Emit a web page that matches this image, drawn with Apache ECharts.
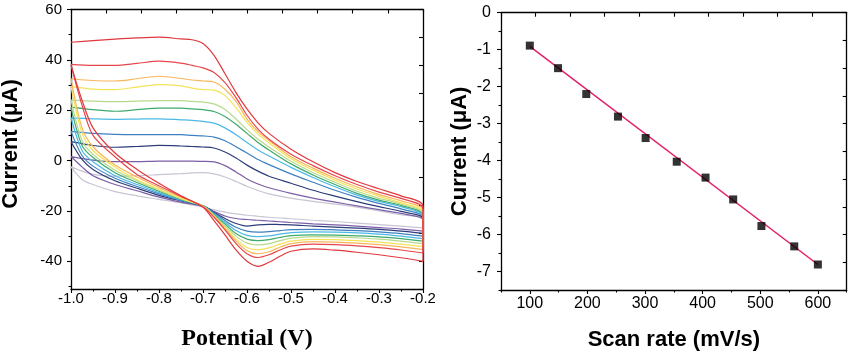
<!DOCTYPE html>
<html><head><meta charset="utf-8">
<script src="https://cdn.jsdelivr.net/npm/echarts@6/dist/echarts.min.js"></script>
<style>html,body{margin:0;padding:0;background:#fff}#c{width:850px;height:356px}</style>
</head><body><div id="c"></div>
<script>
// ---------- Left panel: cyclic voltammograms (potential in V, current in µA) ----------
const potentialFwd = [-1.0, -0.95, -0.9, -0.85, -0.8, -0.75, -0.725, -0.7, -0.675, -0.65, -0.625, -0.6, -0.575, -0.55, -0.5, -0.45, -0.4, -0.35, -0.3, -0.25, -0.2];
const potentialRev = [-0.2, -0.25, -0.3, -0.35, -0.4, -0.45, -0.5, -0.525, -0.55, -0.575, -0.6, -0.625, -0.65, -0.675, -0.7, -0.75, -0.8, -0.85, -0.9, -0.95, -0.975, -1.0];

const cvScanRates = [600, 550, 500, 450, 400, 350, 300, 250, 200, 150, 100];

const fwd600 = [47, 47.6, 48.2, 48.7, 49, 48.3, 48, 46.5, 41.8, 34.5, 27, 20.5, 15, 10.8, 4.5, -0.5, -4.8, -8.3, -11.2, -14, -18];
const fwd550 = [38.2, 37.8, 37.8, 38.6, 39.5, 38.7, 37.8, 36.8, 35, 31, 25, 18, 12.5, 8.5, 2.5, -2, -6, -9.5, -12.5, -15, -19];
const fwd500 = [32.5, 31.8, 31.6, 32.5, 33.5, 32.6, 32, 31.6, 31.2, 28.3, 23.5, 16.5, 11.5, 8, 1.5, -3, -7, -10.5, -13.5, -16, -19.8];
const fwd450 = [29.5, 28.4, 28.2, 29.2, 30.2, 29.7, 28.8, 28.2, 28, 25.8, 21, 15.2, 10.5, 7, 0.7, -3.8, -7.8, -11.3, -14.2, -16.8, -20.5];
const fwd400 = [24, 23.6, 23.4, 23.6, 23.8, 23.8, 23.5, 23.2, 22.5, 20.3, 16.5, 12.3, 8.5, 5.4, -0.3, -4.8, -8.6, -12.2, -15, -17.3, -21];
const fwd350 = [21.2, 20.2, 19.6, 20.2, 20.8, 20.8, 20.5, 20.2, 19.5, 17.5, 14.4, 10.8, 7.2, 4.2, -1.3, -5.7, -9.5, -13, -15.7, -17.8, -21.5];
const fwd300 = [16.9, 16.6, 16.4, 16.5, 16.6, 16.2, 16, 15.6, 14.9, 13, 10.3, 7.2, 4.2, 1.8, -2.7, -6.7, -10.4, -13.7, -16.2, -18.3, -22];
const fwd250 = [11.6, 10.8, 10.4, 10.3, 10.3, 10.3, 10, 9.8, 9.3, 7.9, 5.5, 3, 0.4, -1.6, -5.3, -8.6, -11.8, -14.6, -17, -19.2, -22.5];
const fwd200 = [7.5, 6, 5.3, 5.6, 6, 5.8, 5.6, 5.4, 5, 3.4, 1, -1.8, -4.2, -6.2, -9, -11.8, -14.1, -16.3, -18.3, -20.2, -23];
const fwd150 = [1.6, 0.2, -0.4, -0.4, -0.2, -0.2, -0.2, -0.3, -0.5, -2, -4.5, -7.3, -9.3, -10.8, -13, -14.9, -16.5, -18, -19.5, -21, -23.5];
const fwd100 = [-2.5, -5.5, -6.2, -6, -5.6, -5.2, -4.9, -4.8, -5.3, -6.5, -8.3, -10.2, -11.9, -13.2, -14.9, -16.2, -17.3, -18.5, -20, -21.5, -23];

const rev600 = [-40, -38.6, -37.4, -36.4, -35.6, -35.1, -36, -38, -40.4, -42, -40, -35.5, -29.5, -23.8, -18.5, -14, -9, -3.5, 3, 13, 24, 38];
const rev550 = [-36.7, -35.5, -34.6, -33.9, -33.4, -33.2, -34, -35.5, -37.4, -38.5, -37, -33, -27.5, -22.5, -18.3, -14.2, -10, -5.5, 1.5, 10, 22, 38];
const rev500 = [-35.4, -34.3, -33.4, -32.8, -32.4, -32.2, -33, -34.4, -36.2, -37, -35.8, -32, -27, -22.2, -18.2, -14.5, -10.7, -6.5, -1.8, 5.5, 13, 32.5];
const rev450 = [-34.2, -33.2, -32.4, -31.8, -31.4, -31.3, -32, -33.2, -34.7, -35.4, -34.5, -31.2, -26.5, -22, -18.1, -15, -11.3, -7.6, -2.6, 4, 11, 29.5];
const rev400 = [-33, -32, -31.2, -30.7, -30.3, -30.2, -30.8, -31.8, -33, -33.5, -32.8, -30, -26, -21.8, -18.1, -15.2, -11.8, -8, -3.8, 2.5, 8, 24];
const rev350 = [-32, -31, -30.3, -29.9, -29.6, -29.5, -29.8, -30.5, -31.4, -31.8, -31.2, -29, -25.2, -21.5, -18, -15.4, -12.2, -8.7, -4.8, 1.2, 6, 21];
const rev300 = [-31, -30, -29.2, -28.7, -28.4, -28.3, -28.6, -29.2, -29.9, -30.2, -29.7, -27.8, -24.5, -21.2, -18, -15.6, -12.7, -9.5, -6, -0.5, 4, 17];
const rev250 = [-30, -29, -28.3, -27.8, -27.5, -27.3, -27.4, -27.8, -28.2, -28.4, -28, -26.5, -23.8, -20.8, -18, -15.8, -13.2, -10.3, -7, -2.2, 2, 11.6];
const rev200 = [-28.9, -28, -27.3, -26.8, -26.4, -26, -25.5, -25.4, -25.3, -25.5, -26, -25, -23, -20.5, -18, -16, -13.8, -11, -8, -3.5, 0.5, 7.5];
const rev150 = [-28, -27.2, -26.6, -26, -25.5, -25.1, -24.6, -24.3, -24, -23.7, -23.4, -23, -22, -20.2, -18.2, -16.5, -14.5, -12, -9.5, -6, -2.5, 1.6];
const rev100 = [-26.7, -26, -25.4, -24.8, -24.2, -23.7, -23.1, -22.8, -22.5, -22.1, -21.7, -21.2, -20.5, -19.6, -18.4, -16.8, -15.4, -14, -12.3, -9.5, -7.5, -2.5];

const cvForward = [fwd600, fwd550, fwd500, fwd450, fwd400, fwd350, fwd300, fwd250, fwd200, fwd150, fwd100];
const cvReverse = [rev600, rev550, rev500, rev450, rev400, rev350, rev300, rev250, rev200, rev150, rev100];

const cvTicksMajor = [-40, -20, 0, 20, 40, 60];
const cvTicksMinor = [-50, -30, -10, 10, 30, 50];

// ---------- Right panel: peak current vs scan rate ----------
const scanRate = [100, 149, 198, 253, 301, 355, 405, 453, 502, 559, 600];
const peakCurrent = [-0.89, -1.5, -2.2, -2.81, -3.39, -4.03, -4.46, -5.05, -5.77, -6.32, -6.81];
const fitRate = [100, 600];
const fitCurrent = [-0.91, -6.81];
const rateTicksMajor = [100, 200, 300, 400, 500, 600];
const rateTicksMinor = [50, 150, 250, 350, 450, 550, 650];
const currentTicksMajor = [0, -1, -2, -3, -4, -5, -6, -7];
const currentTicksMinor = [-0.5, -1.5, -2.5, -3.5, -4.5, -5.5, -6.5, -7.5];

// ---------- styles ----------
const cvColors = ['#e0393d', '#e6474d', '#f7b65a', '#f4e25a', '#b8d98c', '#3eaa6c', '#4bb9e6', '#3f80c0', '#2d3d78', '#7b5ea8', '#c9c5d3'];
const BLACK = '#000';
const sans = '"Liberation Sans", Arial, sans-serif';
const serif = '"Liberation Serif", "Times New Roman", serif';
const axLine = {show: true, onZero: false, lineStyle: {color: BLACK, width: 1.3}};
const noLine = {show: false, onZero: false};
const tickStyle = {color: BLACK, width: 1.1};

const chart = echarts.init(document.getElementById('c'), null, {renderer: 'canvas'});

const cvSeries = cvForward.map((fwd, i) => ({
  type: 'line',
  name: cvScanRates[i] + ' mV/s',
  xAxisIndex: 0, yAxisIndex: 0,
  data: potentialFwd.map((e, j) => [e, fwd[j]]).concat(potentialRev.map((e, j) => [e, cvReverse[i][j]])),
  showSymbol: false, symbol: 'none',
  smooth: 0.3,
  lineStyle: {color: cvColors[i], width: 1.2},
  z: 2 + (cvForward.length - i)
}));

chart.setOption({
  animation: false,
  backgroundColor: '#fff',
  grid: [
    {left: 71, top: 9.5, width: 352, height: 283.5, containLabel: false},
    {left: 501, top: 12.7, width: 345.7, height: 280, containLabel: false}
  ],
  xAxis: [
    {gridIndex: 0, type: 'value', position: 'bottom', min: -1, max: -0.2, interval: 0.1,
     axisLine: axLine,
     axisTick: {show: true, length: 4, lineStyle: tickStyle},
     minorTick: {show: true, splitNumber: 2, length: 2.5, lineStyle: tickStyle},
     axisLabel: {formatter: v => v.toFixed(1), fontSize: 15, color: BLACK, margin: 2, fontFamily: sans},
     splitLine: {show: false},
     name: 'Potential (V)', nameLocation: 'middle', nameGap: 38,
     nameTextStyle: {fontFamily: serif, fontWeight: 'bold', fontSize: 24, color: BLACK}},
    {gridIndex: 0, type: 'value', position: 'top', min: 0, max: 10, interval: 1,
     axisLine: axLine, axisTick: {show: true, inside: true, length: 4, lineStyle: tickStyle},
     axisLabel: {show: false}, splitLine: {show: false}},
    {gridIndex: 1, type: 'value', position: 'bottom', min: 50, max: 650,
     axisLine: axLine,
     axisTick: {show: true, length: 4, customValues: rateTicksMajor, lineStyle: tickStyle},
     axisLabel: {customValues: rateTicksMajor, fontSize: 16, color: BLACK, margin: 6, fontFamily: sans},
     splitLine: {show: false},
     name: 'Scan rate (mV/s)', nameLocation: 'middle', nameGap: 39,
     nameTextStyle: {fontFamily: sans, fontWeight: 'bold', fontSize: 22, color: BLACK}},
    {gridIndex: 1, type: 'value', position: 'bottom', min: 50, max: 650,
     axisLine: noLine,
     axisTick: {show: true, length: 2.5, customValues: rateTicksMinor, lineStyle: tickStyle},
     axisLabel: {show: false}, splitLine: {show: false}},
    {gridIndex: 1, type: 'value', position: 'top', min: 0, max: 10, interval: 1,
     axisLine: axLine, axisTick: {show: true, inside: true, length: 4, lineStyle: tickStyle},
     axisLabel: {show: false}, splitLine: {show: false}}
  ],
  yAxis: [
    {gridIndex: 0, type: 'value', position: 'left', min: -51, max: 60,
     axisLine: axLine,
     axisTick: {show: true, length: 4, customValues: cvTicksMajor, lineStyle: tickStyle},
     axisLabel: {customValues: cvTicksMajor, fontSize: 15, color: BLACK, margin: 9, fontFamily: sans},
     splitLine: {show: false}},
    {gridIndex: 0, type: 'value', position: 'left', min: -51, max: 60,
     axisLine: noLine,
     axisTick: {show: true, length: 2.5, customValues: cvTicksMinor, lineStyle: tickStyle},
     axisLabel: {show: false}, splitLine: {show: false}},
    {gridIndex: 0, type: 'value', position: 'right', min: 0, max: 10, interval: 1,
     axisLine: axLine, axisTick: {show: true, inside: true, length: 4, lineStyle: tickStyle},
     axisLabel: {show: false}, splitLine: {show: false}},
    {gridIndex: 1, type: 'value', position: 'left', min: -7.5, max: 0,
     axisLine: axLine,
     axisTick: {show: true, length: 4, customValues: currentTicksMajor, lineStyle: tickStyle},
     axisLabel: {customValues: currentTicksMajor, fontSize: 16, color: BLACK, margin: 10, fontFamily: sans},
     splitLine: {show: false},
     name: 'Current (\u03bcA)', nameLocation: 'middle', nameGap: 30, nameRotate: 90,
     nameTextStyle: {fontFamily: sans, fontWeight: 'bold', fontSize: 22, color: BLACK}},
    {gridIndex: 1, type: 'value', position: 'left', min: -7.5, max: 0,
     axisLine: noLine,
     axisTick: {show: true, length: 2.5, customValues: currentTicksMinor, lineStyle: tickStyle},
     axisLabel: {show: false}, splitLine: {show: false}},
    {gridIndex: 1, type: 'value', position: 'right', min: 0, max: 10, interval: 1,
     axisLine: axLine, axisTick: {show: true, inside: true, length: 4, lineStyle: tickStyle},
     axisLabel: {show: false}, splitLine: {show: false}}
  ],
  graphic: [
    {type: 'text', x: 11, y: 144, rotation: Math.PI / 2,
     style: {text: 'Current (\u03bcA)', font: 'bold 22px "Liberation Sans", Arial, sans-serif', fill: BLACK,
             align: 'center', verticalAlign: 'middle'}}
  ],
  series: cvSeries.concat([
    {type: 'line', name: 'fit', xAxisIndex: 2, yAxisIndex: 3,
     data: fitRate.map((r, i) => [r, fitCurrent[i]]),
     showSymbol: false, symbol: 'none',
     lineStyle: {color: '#e0206b', width: 1.5}, z: 3},
    {type: 'scatter', name: 'peak current', xAxisIndex: 2, yAxisIndex: 3,
     data: scanRate.map((r, i) => [r, peakCurrent[i]]),
     symbol: 'rect', symbolSize: 8,
     itemStyle: {color: '#000'}, z: 4}
  ])
});
</script>
</body></html>
